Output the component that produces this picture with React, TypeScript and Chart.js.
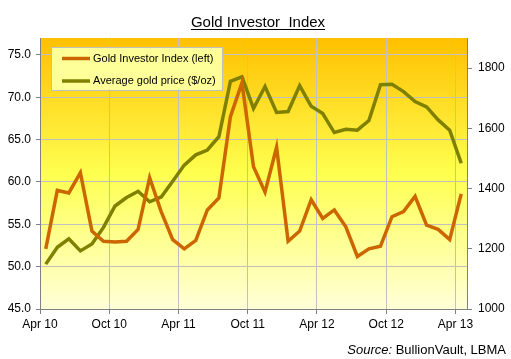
import React, { useEffect, useRef } from 'react';
import { Chart, registerables } from 'chart.js';

Chart.register(...registerables);

const TITLE = 'Gold Investor  Index';
const SOURCE_LABEL = 'Source:';
const SOURCE_TEXT = ' BullionVault, LBMA';

const months = [
  '2010-04', '2010-05', '2010-06', '2010-07', '2010-08', '2010-09', '2010-10', '2010-11', '2010-12',
  '2011-01', '2011-02', '2011-03', '2011-04', '2011-05', '2011-06', '2011-07', '2011-08', '2011-09',
  '2011-10', '2011-11', '2011-12', '2012-01', '2012-02', '2012-03', '2012-04', '2012-05', '2012-06',
  '2012-07', '2012-08', '2012-09', '2012-10', '2012-11', '2012-12', '2013-01', '2013-02', '2013-03',
  '2013-04',
];

const tickLabels = ['Apr 10', 'Oct 10', 'Apr 11', 'Oct 11', 'Apr 12', 'Oct 12', 'Apr 13'];

const investorIndex = [
  52.1, 59.0, 58.7, 61.1, 54.2, 53.0, 52.9, 53.0, 54.4, 60.5, 56.5, 53.2, 52.1,
  53.1, 56.7, 58.1, 67.7, 71.7, 61.8, 58.8, 64.1, 53.0, 54.2, 57.9, 55.7,
  56.7, 54.7, 51.2, 52.1, 52.4, 55.9, 56.5, 58.3, 54.9, 54.4, 53.2, 58.6,
];

const goldPrice = [
  1149, 1205, 1233, 1193, 1216, 1271, 1342, 1370, 1391, 1356, 1372, 1424, 1478,
  1512, 1528, 1572, 1756, 1771, 1666, 1739, 1653, 1656, 1742, 1673, 1649,
  1586, 1597, 1594, 1626, 1745, 1746, 1722, 1689, 1671, 1628, 1594, 1484,
];

const leftTicks = [45, 50, 55, 60, 65, 70, 75];
const rightTicks = [1000, 1200, 1400, 1600, 1800];

const FONT = "'Liberation Sans', Arial, sans-serif";

const decorPlugin = {
  id: 'decor',
  beforeDraw(chart: any) {
    const { ctx, chartArea } = chart;
    const { left, top, right, bottom } = chartArea;
    const g = ctx.createLinearGradient(0, top, 0, bottom);
    g.addColorStop(0, '#FFC000');
    g.addColorStop(0.5, '#FFFF50');
    g.addColorStop(1, '#FFFFD8');
    ctx.save();
    ctx.fillStyle = g;
    ctx.fillRect(left, top, right - left, bottom - top);
    ctx.restore();
  },
  afterDraw(chart: any) {
    const { ctx, chartArea, width, height } = chart;
    const { left, top } = chartArea;
    ctx.save();
    // title
    ctx.font = `15px ${FONT}`;
    ctx.fillStyle = '#000';
    ctx.textAlign = 'center';
    ctx.textBaseline = 'alphabetic';
    const tx = 258;
    const ty = 27;
    ctx.fillText(TITLE, tx, ty);
    const tw = ctx.measureText(TITLE).width;
    ctx.strokeStyle = '#000';
    ctx.lineWidth = 1;
    ctx.beginPath();
    ctx.moveTo(tx - tw / 2, ty + 2.5);
    ctx.lineTo(tx + tw / 2, ty + 2.5);
    ctx.stroke();

    // legend
    const lx = left + 11;
    const ly = top + 9;
    ctx.fillStyle = '#FFFF99';
    ctx.fillRect(lx, ly, 172, 44);
    ctx.strokeStyle = '#BFBFBF';
    ctx.strokeRect(lx + 0.5, ly + 0.5, 171, 43);
    ctx.font = `11px ${FONT}`;
    ctx.textAlign = 'left';
    ctx.textBaseline = 'middle';
    chart.data.datasets.forEach((ds: any, i: number) => {
      const y = ly + 11.5 + i * 22.5;
      ctx.strokeStyle = ds.borderColor;
      ctx.lineWidth = 3.5;
      ctx.beginPath();
      ctx.moveTo(lx + 11, y);
      ctx.lineTo(lx + 39, y);
      ctx.stroke();
      ctx.fillStyle = '#000';
      ctx.fillText(ds.label, lx + 42, y);
    });

    // source
    ctx.textBaseline = 'alphabetic';
    ctx.textAlign = 'left';
    ctx.font = `13px ${FONT}`;
    const w2 = ctx.measureText(SOURCE_TEXT).width;
    ctx.font = `italic 13px ${FONT}`;
    const w1 = ctx.measureText(SOURCE_LABEL).width;
    const sx = width - 5 - w1 - w2;
    const sy = height - 5;
    ctx.fillText(SOURCE_LABEL, sx, sy);
    ctx.font = `13px ${FONT}`;
    ctx.fillText(SOURCE_TEXT, sx + w1, sy);
    ctx.restore();
  },
};

export default function App() {
  const ref = useRef<HTMLCanvasElement | null>(null);

  useEffect(() => {
    if (!ref.current) return;
    Chart.defaults.font.family = FONT;
    Chart.defaults.color = '#000';
    const chart = new Chart(ref.current, {
      type: 'line',
      data: {
        datasets: [
          {
            label: 'Gold Investor Index (left)',
            data: investorIndex.map((v, i) => ({ x: i + 0.5, y: v })),
            borderColor: '#CC6600',
            backgroundColor: '#CC6600',
            borderWidth: 3.5,
            pointRadius: 0,
            tension: 0,
            yAxisID: 'y',
          },
          {
            label: 'Average gold price ($/oz)',
            data: goldPrice.map((v, i) => ({ x: i + 0.5, y: v })),
            borderColor: '#808000',
            backgroundColor: '#808000',
            borderWidth: 3.5,
            pointRadius: 0,
            tension: 0,
            yAxisID: 'y1',
          },
        ],
      },
      options: {
        responsive: false,
        animation: false,
        layout: { padding: { top: 38, left: 0, right: 0, bottom: 0 } },
        plugins: {
          legend: { display: false },
          title: { display: false },
          tooltip: { enabled: false },
        },
        scales: {
          x: {
            type: 'linear',
            min: 0,
            max: months.length,
            afterBuildTicks: (s: any) => {
              s.ticks = tickLabels.map((_, k) => ({ value: k * 6 }));
            },
            afterFit: (s: any) => {
              s.height = 50;
            },
            ticks: {
              autoSkip: false,
              maxRotation: 0,
              padding: 3,
              font: { size: 12 },
              callback: (_v: any, i: number) => tickLabels[i],
            },
            grid: { color: '#C0C0C0', tickColor: '#808080', tickLength: 5 },
            border: { color: '#808080', width: 1 },
          },
          y: {
            position: 'left',
            min: 45,
            max: 77,
            afterBuildTicks: (s: any) => {
              s.ticks = leftTicks.map((v) => ({ value: v }));
            },
            afterFit: (s: any) => {
              s.width = 40;
            },
            ticks: {
              padding: 5,
              font: { size: 12 },
              callback: (v: any) => Number(v).toFixed(1),
            },
            grid: { color: '#C0C0C0', tickColor: '#808080', tickLength: 4 },
            border: { color: '#808080', width: 1 },
          },
          y1: {
            position: 'right',
            min: 1000,
            max: 1900,
            afterBuildTicks: (s: any) => {
              s.ticks = rightTicks.map((v) => ({ value: v }));
            },
            afterFit: (s: any) => {
              s.width = 44;
            },
            ticks: {
              padding: 6,
              font: { size: 12 },
              callback: (v: any) => String(v),
            },
            grid: { drawOnChartArea: false, tickColor: '#808080', tickLength: 5 },
            border: { color: '#808080', width: 1 },
          },
        },
      },
      plugins: [decorPlugin],
    });
    return () => chart.destroy();
  }, []);

  return (
    <div style={{ position: 'absolute', left: 0, top: 0, width: 511, height: 359 }}>
      <canvas ref={ref} width={511} height={359} style={{ display: 'block' }} />
    </div>
  );
}
